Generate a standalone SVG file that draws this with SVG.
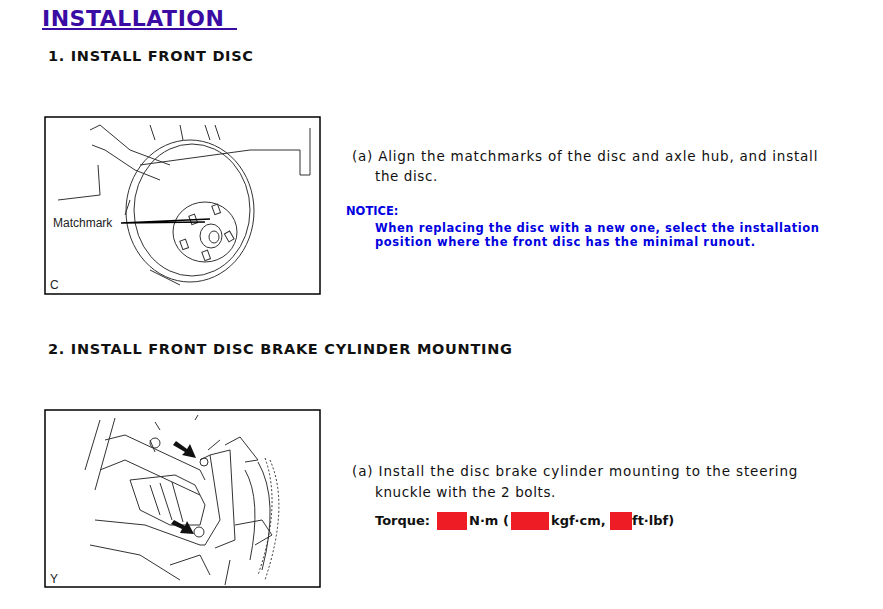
<svg xmlns="http://www.w3.org/2000/svg" width="883" height="609" viewBox="0 0 883 609">
<style>
.h{font-family:"DejaVu Sans",Verdana,sans-serif;font-weight:bold;fill:#111}
.t{font-family:"DejaVu Sans",Verdana,sans-serif;font-size:13.5px;fill:#111;letter-spacing:0.6px}
.n{font-family:"DejaVu Sans",Verdana,sans-serif;font-size:11.5px;font-weight:bold;fill:#0000e0}
.ln{fill:none;stroke:#333;stroke-width:1}
.fr{fill:#fff;stroke:#000;stroke-width:1.5}
.lab{font-family:"Liberation Sans",Arial,sans-serif;font-size:12px;fill:#222}
.red{fill:#ee1c25}
</style>
<rect width="883" height="609" fill="#fff"/>
<g id="title"><text x="42" y="26" font-size="22" class="h" style="fill:#3a0ca3;letter-spacing:0.5px">INSTALLATION</text>
<rect x="42" y="28" width="195" height="2" fill="#3a0ca3"/></g>
<g id="step1">
<text x="48" y="61" font-size="14.5" class="h" textLength="205">1. INSTALL FRONT DISC</text>
<rect x="45" y="117" width="275" height="177" class="fr"/>
<g id="disc-art" class="ln">
<path d="M90 130 L100 125 L130 150 L170 165"/>
<path d="M92 145 L105 150 L135 170 L160 180"/>
<path d="M98 165 L100 195 L58 200"/>
<path d="M150 125 L155 140 M180 125 L183 140 M205 125 L210 140 M215 125 L220 140"/>
<path d="M250 150 L300 150 L300 175 L310 175 L310 128"/>
<ellipse cx="190" cy="211" rx="64" ry="71"/>
<ellipse cx="192" cy="210" rx="58" ry="66"/>
<path d="M140 165 L250 150 M130 200 L125 215"/>
<ellipse cx="205" cy="232" rx="32" ry="30"/>
<ellipse cx="211" cy="236" rx="11" ry="12"/>
<ellipse cx="214" cy="237" rx="5" ry="6"/>
<rect x="213" y="205" width="6" height="9" transform="rotate(-20 216 209)"/>
<rect x="226" y="232" width="6" height="9" transform="rotate(-30 229 236)"/>
<rect x="203" y="251" width="6" height="9" transform="rotate(-20 206 255)"/>
<rect x="181" y="240" width="6" height="9" transform="rotate(-20 184 244)"/>
<rect x="190" y="215" width="6" height="9" transform="rotate(-20 193 219)"/>
<path d="M150 270 L180 285"/>
</g>
<path d="M121 223 L205 222 M121 223 L210 219" stroke="#000" stroke-width="1.3" fill="none"/>
<text x="53" y="227" class="lab">Matchmark</text>
<text x="50" y="289" class="lab" font-size="9">C</text>
<text x="352" y="161" class="t" textLength="466">(a) Align the matchmarks of the disc and axle hub, and install</text>
<text x="375" y="181" class="t">the disc.</text>
<text x="346" y="215" class="n">NOTICE:</text>
<text x="375" y="232" class="n" textLength="444">When replacing the disc with a new one, select the installation</text>
<text x="375" y="246" class="n" textLength="380">position where the front disc has the minimal runout.</text>
</g>
<g id="step2">
<text x="48" y="354" font-size="14.5" class="h" textLength="464">2. INSTALL FRONT DISC BRAKE CYLINDER MOUNTING</text>
<rect x="45" y="410" width="275" height="177" class="fr"/>
<g id="caliper-art" class="ln">
<path d="M100 420 L85 470 M115 418 L95 490"/>
<path d="M105 440 L125 435 L200 470 L205 480 M100 470 L125 460 L200 495"/>
<path d="M130 480 L175 475 L195 485 L205 505 L200 525 L170 525 L140 510 Z"/>
<path d="M150 485 L160 515 M160 483 L172 520 M172 482 L183 522"/>
<path d="M95 520 L145 525 L200 545 M90 545 L140 555 L180 580"/>
<path d="M200 460 L210 455 L220 520 L205 545 L200 545 M210 455 L230 450 L235 540 L215 548"/>
<path d="M225 445 L240 437 L258 460 L245 462 M235 525 L262 520 L272 535 L255 545"/>
<path d="M245 470 Q262 500 250 560 M258 462 Q280 500 262 570"/>
<path d="M270 460 Q290 505 265 580 M265 458 Q282 505 258 575" stroke-dasharray="2 2"/>
<path d="M150 440 L155 452 M155 422 L160 430 M195 420 L198 415 M220 440 L208 450"/>
<circle cx="155" cy="443" r="5"/><circle cx="204" cy="462" r="4"/><circle cx="199" cy="532" r="5"/>
<path d="M170 565 L200 555 L210 575 M230 560 L225 585"/>
</g>
<path d="M176 441 L187 449 L190 444 L196 458 L182 455 L185 452 L173 445 Z" fill="#111"/>
<path d="M174 520 L185 526 L187 521 L194 534 L180 533 L182 529 L171 524 Z" fill="#111"/>
<text x="50" y="583" class="lab" font-size="9">Y</text>
<text x="352" y="476" class="t" textLength="446">(a) Install the disc brake cylinder mounting to the steering</text>
<text x="375" y="497" class="t">knuckle with the 2 bolts.</text>
<text x="375" y="525" class="h" font-size="13">Torque:</text>
<rect x="437" y="512" width="30" height="18" class="red"/>
<text x="469" y="525" class="h" font-size="13">N·m (</text>
<rect x="511" y="512" width="38" height="18" class="red"/>
<text x="551" y="525" class="h" font-size="13">kgf·cm,</text>
<rect x="610" y="512" width="22" height="18" class="red"/>
<text x="632" y="525" class="h" font-size="13">ft·lbf)</text>
</g>
</svg>
